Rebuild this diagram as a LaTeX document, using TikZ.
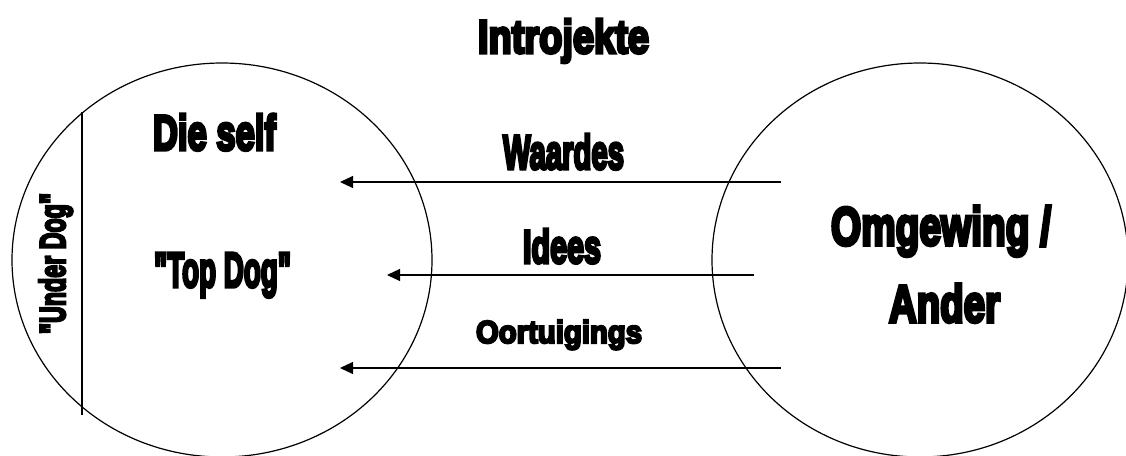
\documentclass[tikz,border=0pt]{standalone}
\usepackage{fontspec}
\usepackage{graphicx}
\usetikzlibrary{arrows.meta}
\newfontfamily\impactfont{Liberation Sans Bold}[FakeBold=7]
\newcommand{\fitt}[3]{\resizebox{#1pt}{#2pt}{\impactfont #3}}
\tikzset{
  lbl/.style={anchor=base, inner sep=0pt, outer sep=0pt},
  ring/.style={draw=black, line width=1.2pt},
  flow/.style={draw=black, line width=1.2pt, -{Triangle[length=13pt,width=12pt]}},
  divider/.style={draw=black, line width=1.2pt}
}
\begin{document}
\begin{tikzpicture}[x=1pt,y=-1pt]
\useasboundingbox (0,0) rectangle (1126,455);
\clip (0,0) rectangle (1126,455);
\fill[white] (0,0) rectangle (1126,455);
% circles
\draw[ring] (222,260) ellipse [x radius=210, y radius=197];
\draw[ring] (920,260) ellipse [x radius=208, y radius=197];
% under dog divider
\coordinate (d1) at (82,112);
\coordinate (d2) at (82,415);
\draw[divider] (d1) -- (d2);
% arrows
\coordinate (s1) at (781,182);
\coordinate (t1) at (340,182);
\coordinate (s2) at (754,275);
\coordinate (t2) at (387,275);
\coordinate (s3) at (781,368);
\coordinate (t3) at (340,368);
\draw[flow] (s1) -- (t1);
\draw[flow] (s2) -- (t2);
\draw[flow] (s3) -- (t3);
% texts
\node[lbl] (intro) at (563.5,53) {\fitt{171}{34}{Introjekte}};
\node[lbl] (self) at (214.5,150) {\fitt{123}{36}{Die self}};
\node[lbl] (top) at (222.5,287) {\fitt{137}{34}{"Top Dog"}};
\node[lbl, rotate=90] (under) at (65,263.5) {\fitt{141}{26}{"Under Dog"}};
\node[lbl] (waardes) at (563.5,169) {\fitt{121}{35}{Waardes}};
\node[lbl] (idees) at (562,263) {\fitt{78}{34}{Idees}};
\node[lbl] (oort) at (559,343) {\fitt{166}{23}{Oortuigings}};
\node[lbl] (omg) at (941,245) {\fitt{220}{39}{Omgewing /}};
\node[lbl] (ander) at (944.5,322) {\fitt{111}{38}{Ander}};
\end{tikzpicture}
\end{document}
